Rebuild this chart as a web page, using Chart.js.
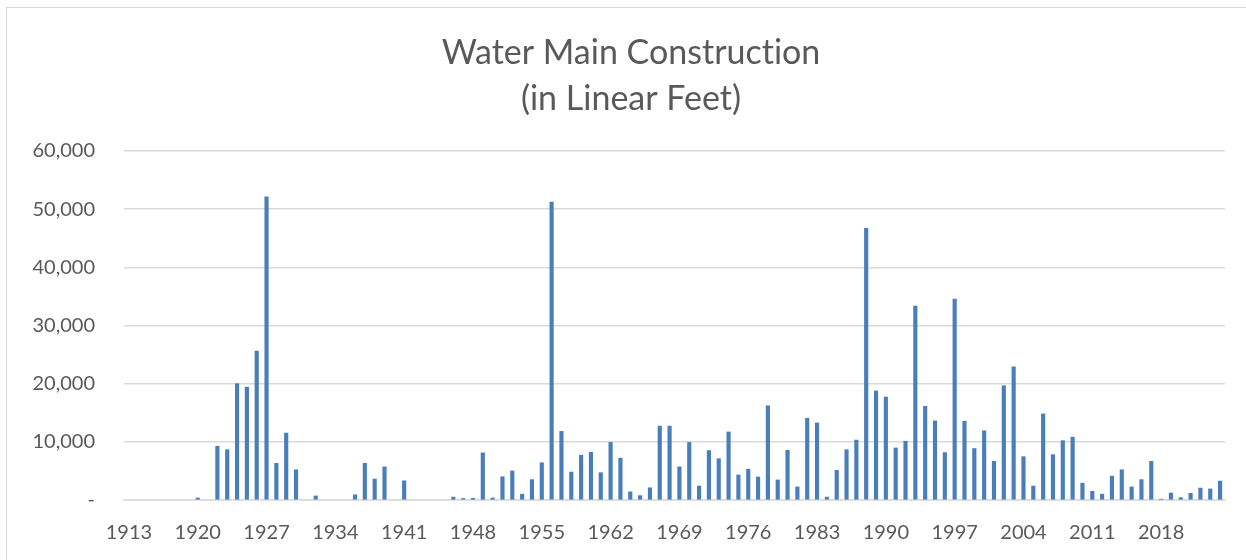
<!DOCTYPE html>
<html>
<head>
<meta charset="utf-8">
<script src="https://cdn.jsdelivr.net/npm/chart.js@4/dist/chart.umd.min.js"></script>
<style>
    body { margin: 0; background: #fff; }
    #wrap { position: relative; width: 1246px; height: 560px; overflow: hidden; }
    #frame { position: absolute; left: 6px; top: 7px; width: 1300px; height: 600px; border: 1.5px solid #d9d9d9; box-sizing: border-box; }
    canvas { position: absolute; left: 0; top: 0; }
</style>
</head>
<body>
<div id="wrap">
    <div id="frame"></div>
    <canvas id="waterChart" width="1246" height="560"></canvas>
</div>
<script>
// Years 1913 .. 2024 (one bar slot per year)
const years = Array.from({ length: 112 }, (_, i) => String(1913 + i));

// Linear feet built per year (null = nothing built)
const linearFeet = [
    null, null, null, null, null, null, null,                      // 1913-1919
    350, null, 9230, 8650, 20000, 19400, 25600, 52100, 6300, 11500, // 1920-1929
    5200, null, 700, null, null, null, 900, 6300, 3600, 5700,      // 1930-1939
    null, 3300, null, null, null, null, 500, 250, 300, 8100,       // 1940-1949
    350, 4000, 5000, 1000, 3500, 6400, 51200, 11800, 4800, 7700,   // 1950-1959
    8200, 4700, 9900, 7200, 1400, 750, 2100, 12700, 12700, 5700,   // 1960-1969
    9900, 2400, 8500, 7100, 11700, 4300, 5300, 3950, 16200, 3450,  // 1970-1979
    8550, 2250, 14050, 13250, 500, 5100, 8650, 10300, 46700, 18750, // 1980-1989
    17700, 8950, 10100, 33350, 16100, 13600, 8150, 34550, 13550, 8850, // 1990-1999
    11900, 6650, 19650, 22900, 7450, 2400, 14800, 7800, 10200, 10800, // 2000-2009
    2900, 1500, 1000, 4100, 5200, 2250, 3500, 6650, 150, 1200,     // 2010-2019
    400, 1150, 2050, 1900, 3250                                    // 2020-2024
];

// Only every 7th year gets a label on the x axis
const tickYears = ['1913', '1920', '1927', '1934', '1941', '1948', '1955', '1962',
    '1969', '1976', '1983', '1990', '1997', '2004', '2011', '2018'];

// \u200C keeps the font from joining "ti" into a ligature
const titleLines = ['Water Main Construct\u200Cion', '(in Linear Feet)'];

const textColor = '#595959';
const gridColor = '#d9d9d9';

// Title is drawn by hand so it can sit centred on the whole frame, like the original
const frameTitle = {
    id: 'frameTitle',
    afterDraw(chart) {
        const c = chart.ctx;
        c.save();
        c.fillStyle = textColor;
        c.font = '34px Lato';
        c.textAlign = 'center';
        c.textBaseline = 'middle';
        c.fillText(titleLines[0], 631, 53);
        c.fillText(titleLines[1], 631, 99);
        c.restore();
    }
};

const ctx = document.getElementById('waterChart').getContext('2d');
const waterChart = new Chart(ctx, {
    type: 'bar',
    data: {
        labels: years,
        datasets: [{
            label: 'Linear Feet',
            data: linearFeet,
            backgroundColor: '#4a7ebb',
            barThickness: 3.5
        }]
    },
    options: {
        responsive: false,
        animation: false,
        layout: {
            padding: { left: 0, right: 21, top: 151, bottom: 0 }
        },
        plugins: {
            legend: { display: false },
            tooltip: { enabled: false },
            title: { display: false }
        },
        scales: {
            x: {
                grid: { display: false, drawTicks: false },
                border: { display: true, color: gridColor, width: 1.5 },
                ticks: {
                    autoSkip: false,
                    maxRotation: 0,
                    padding: 21,
                    color: textColor,
                    font: { family: 'Lato', size: 20 },
                    callback: function(value, index) {
                        const y = years[index];
                        return tickYears.includes(y) ? y : '';
                    }
                },
                afterFit: function(scale) { scale.height = 60; }
            },
            y: {
                min: 0,
                max: 60000,
                grid: { color: gridColor, lineWidth: 1.5, drawTicks: false },
                border: { display: false },
                ticks: {
                    stepSize: 10000,
                    padding: 29,
                    color: textColor,
                    font: { family: 'Lato', size: 20 },
                    callback: function(value) {
                        return value === 0 ? '-' : value.toLocaleString('en-US');
                    }
                },
                afterFit: function(scale) { scale.width = 124; }
            }
        }
    },
    plugins: [frameTitle]
});
</script>
</body>
</html>
